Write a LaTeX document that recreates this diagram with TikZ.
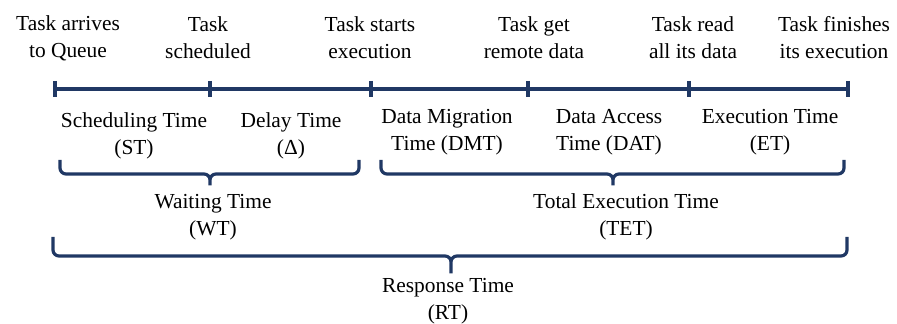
\documentclass[tikz,border=0pt]{standalone}
\usepackage{fontspec}
\setmainfont{Liberation Serif}
\definecolor{navy}{RGB}{32,56,100}

\begin{document}
\begin{tikzpicture}[x=0.5pt,y=-0.5pt,
    bar/.style={draw=navy,line width=1.8pt},
    brace/.style={draw=navy,line width=1.6pt,rounded corners=3pt},
    lbl/.style={align=center,inner sep=0pt,font=\fontsize{10.7}{13.5}\selectfont}]
  \useasboundingbox (0,0) rectangle (897,324);
  % time line with its ticks
  \foreach \n/\x in {t0/55,t1/210,t2/371,t3/528,t4/689,t5/848}{
    \coordinate (\n) at (\x,89);
    \draw[bar] (\x,81) -- (\x,97);
  }
  \draw[bar] (t0) -- (t5);
  % events
  \node[lbl] (arrive) at (68,38) {Task arrives\\to Queue};
  \node[lbl] (sched) at (208,38) {Task\\scheduled};
  \node[lbl] (start) at (370,38) {Task starts\\execution};
  \node[lbl] (remote) at (534,38) {Task get\\remote data};
  \node[lbl] (read) at (693,38) {Task read\\all its data};
  \node[lbl] (finish) at (834,38) {Task finishes\\its execution};
  % intervals
  \node[lbl] (st) at (134,136) {Scheduling Time\\(ST)};
  \node[lbl] (delay) at (291,136) {Delay Time\\(Δ)};
  \node[lbl] (dmt) at (447,132) {Data Migration\\Time (DMT)};
  \node[lbl] (dat) at (609,132) {Data Access\\Time (DAT)};
  \node[lbl] (et) at (770,132) {Execution Time\\(ET)};
  % braces
  \coordinate (wtip) at (210,189);
  \coordinate (ttip) at (613,189);
  \coordinate (rtip) at (451,277);
  \draw[brace] (60,160) |- (210,174) -- (wtip) -- (210,174) -| (359,160);
  \draw[brace] (381,160) |- (613,174) -- (ttip) -- (613,174) -| (844,160);
  \draw[brace] (53,237) |- (451,256) -- (rtip) -- (451,256) -| (847,237);
  \node[lbl] (wt) at (213,217) {Waiting Time\\(WT)};
  \node[lbl] (tet) at (626,217) {Total Execution Time\\(TET)};
  \node[lbl] (rt) at (448,301) {Response Time\\(RT)};
\end{tikzpicture}
\end{document}
